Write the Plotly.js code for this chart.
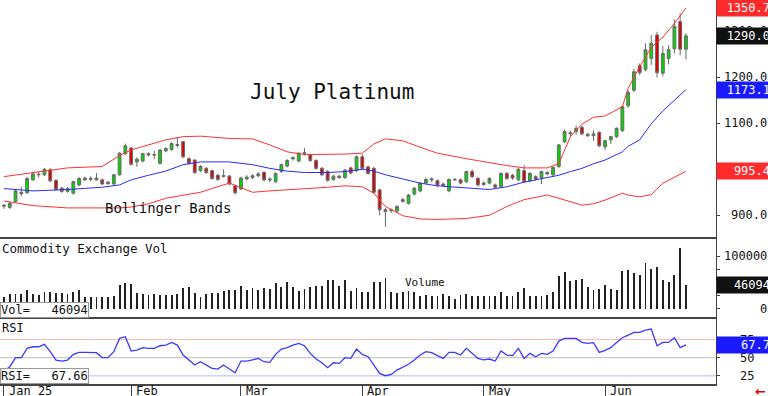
<!DOCTYPE html>
<html><head><meta charset="utf-8">
<script src="https://cdn.plot.ly/plotly-3.0.1.min.js"></script>
<style>html,body{margin:0;padding:0;background:#fff}#chart{width:768px;height:396px}</style>
</head><body><div id="chart"></div>
<script>
// ---- trading days (day-of-month lists per month, 2025) ----
const janDays=[2,3,6,7,8,9,10,13,14,15,16,17,20,21,22,23,24,27,28,29,30,31];
const febDays=[3,4,5,6,7,10,11,12,13,14,18,19,20,21,24,25,26,27,28];
const marDays=[3,4,5,6,7,10,11,12,13,14,17,18,19,20,21,24,25,26,27,28,31];
const aprDays=[1,2,3,4,7,8,9,10,11,14,15,16,17,21,22,23,24,25,28,29,30];
const mayDays=[1,2,5,6,7,8,9,12,13,14,15,16,19,20,21,22,23,27,28,29,30];
const junDays=[2,3,4,5,6,9,10,11,12,13,16,17,18,19,20];
const monthDays=[janDays,febDays,marDays,aprDays,mayDays,junDays];
const dates=[];
monthDays.forEach((days,m)=>days.forEach(d=>dates.push('2025-'+String(m+1).padStart(2,'0')+'-'+String(d).padStart(2,'0'))));

// ---- price OHLC ----
const open=[922,917,930,950,949,977,988,988,999,976,
959,952,948,966,977,980,977,977,972,968,
988,1034,1046,1016,1018,1031,1032,1013,1040,1043,
1054,1060,1023,1020,997,1002,997,987,986,985,
964,957,979,982,986,993,979,973,995,1007,
1023,1018,1036,1031,1019,1002,995,978,985,982,
1003,997,1027,1005,1002,955,912,910,909,934,
926,946,953,970,977,975,968,953,977,977,
973,995,980,970,970,966,962,991,987,977,
997,975,984,982,993,988,1006,1060,1077,1082,
1091,1076,1073,1080,1049,1064,1071,1084,1138,1172,
1225,1217,1241,1292,1209,1241,1262,1321,1261];
const high=[924,929,956,962,983,994,994,1003,1003,978,
962,962,975,983,984,985,992,980,975,990,
1037,1056,1049,1026,1036,1037,1040,1044,1048,1059,
1070,1062,1026,1022,1009,1005,999,990,1000,988,
967,984,987,989,994,996,983,993,1012,1022,
1028,1037,1046,1034,1022,1005,998,988,988,1001,
1006,1030,1033,1008,1005,958,916,915,922,938,
946,961,972,982,983,978,971,980,981,980,
997,1000,983,974,983,969,993,994,990,1003,
1009,994,987,997,996,1006,1055,1087,1084,1095,
1095,1079,1085,1083,1064,1073,1091,1138,1172,1218,
1230,1274,1292,1299,1268,1270,1326,1339,1296];
const low=[914,914,928,941,947,975,982,985,972,953,
949,949,945,963,975,974,975,966,966,966,
986,1031,1008,1005,1015,1028,1022,1010,1037,1040,
1047,1024,1010,990,994,990,977,975,982,965,
945,955,976,979,983,974,972,970,992,1004,
1019,1015,1030,1016,999,985,973,975,979,979,
989,994,999,988,947,900,875,905,905,928,
923,943,950,967,972,962,962,950,974,967,
970,981,963,964,967,958,959,977,977,974,
970,972,975,968,987,985,1003,1057,1071,1075,
1074,1070,1062,1048,1042,1055,1068,1081,1134,1168,
1205,1213,1227,1199,1202,1228,1252,1248,1239];
const close=[920,926,953,947,980,990,989,1000,975,956,
952,958,973,980,981,978,981,968,969,988,
1035,1051,1011,1022,1034,1034,1031,1042,1045,1056,
1052,1027,1013,993,1006,993,980,978,985,968,
949,981,983,986,990,977,977,991,1010,1019,
1025,1035,1035,1019,1002,988,976,985,982,998,
992,1027,1002,991,950,912,908,912,919,930,
944,959,970,978,979,965,965,978,978,970,
995,984,966,967,980,961,991,980,981,1000,
973,991,979,995,990,1004,1053,1082,1079,1089,
1077,1073,1077,1051,1062,1071,1089,1136,1167,1212,
1210,1260,1274,1210,1252,1260,1311,1261,1290];

// ---- Bollinger band readings (trading-day index of each reading) ----
const bbIndex=[0,5,11,17,20,22,25,28,31,34,39,43,46,49,52,56,59,62,64,66,69,72,75,80,84,87,90,94,96,98,100,102,104,107,108,110,112,114,116,118];
const bbUpper=[984,993,1003,1006,1030,1042,1053,1064,1071,1072,1067,1066,1053,1038,1032,1032,1033,1035,1055,1066,1062,1048,1035,1023,1014,1008,1003,1003,1012,1071,1098,1113,1116,1136,1176,1223,1265,1287,1317,1350.7];
const bbMiddle=[958,953,956,961,966,977,987,996,1010,1016,1016,1010,1002,996,993,993,995,1000,996,988,979,970,964,959,956,962,972,982,987,995,1002,1012,1020,1038,1050,1064,1099,1127,1150,1173.1];
const bbLower=[931,921,916,915,916,918,925,937,943,950,970,950,953,955,958,961,964,962,948,919,899,892,891,893,900,919,934,944,937,930,922,925,933,948,944,940,945,970,983,995.4];

// ---- volume ----
const volume=[22000,28300,28300,28300,36500,28300,26400,31500,31500,30200,
30200,28300,31500,36500,22000,22000,22000,22000,22000,25200,
45300,49100,47200,30200,28300,26400,28300,26400,26400,26400,
28300,39000,40900,30200,22000,28300,30200,30200,34600,36500,
36500,44000,36500,39000,36500,39000,37700,49100,40900,50300,
40900,34600,37700,40900,42800,44000,55400,55400,44000,55400,
34600,39000,31500,31500,51600,51600,57900,31500,30200,32700,
34600,31500,25200,26400,23900,23900,28300,23900,18900,26400,
28300,25200,23900,23900,23900,23900,31500,23900,23900,32700,
39000,25200,25200,25200,26400,32700,61600,69200,53500,55400,
56600,40900,36500,37700,45800,37700,36500,72000,73000,68600,
63600,86000,75000,80000,55000,51600,64000,115000,46094];

// ---- RSI ----
const rsi=[31.6,37.6,50.0,50.0,62.9,65.1,65.1,68.4,58.3,46.8,
45.4,46.8,54.6,57.3,57.3,57.0,56.9,50.0,50.0,58.3,
76.6,78.9,59.2,60.6,63.8,62.9,62.9,66.5,67.4,71.1,
67.4,53.7,46.8,39.9,44.5,39.9,35.3,34.4,39.9,34.4,
29.3,45.4,45.4,47.0,49.1,44.5,43.6,54.6,61.9,63.8,
67.4,69.7,66.5,56.0,48.2,43.1,36.2,43.1,42.2,50.0,
49.1,61.9,54.6,51.4,39.9,28.4,25.2,27.0,33.0,37.0,
41.0,46.8,53.7,58.3,56.9,52.8,49.1,57.3,57.3,53.7,
62.9,56.0,49.1,47.0,48.2,45.4,59.2,53.7,52.8,62.9,
49.1,56.0,51.4,56.0,54.6,59.2,72.9,76.6,76.6,76.6,
71.1,69.7,70.7,57.3,60.1,63.8,71.1,77.5,81.2,84.9,
84.9,88.1,89.5,66.5,71.1,71.1,77.5,63.8,67.66];
const rsiLevels=[75,50,25];

// ---- axis labels ----
const priceTicks=[900,1000,1100,1200,1300];
const volTicks=[0,25000,50000,75000,100000];
const volTickLabels={0:'0',100000:'100000'};
const monthTickDates=['2025-01-02','2025-02-03','2025-03-03','2025-04-01','2025-05-01','2025-06-02'];
const monthTickLabels=['Jan 25','Feb','Mar','Apr','May','Jun'];

// ================= drawing =================
const MONO='"DejaVu Sans Mono", "Liberation Mono", monospace';
const bbDates=bbIndex.map(i=>dates[i]);
const last=dates.length-1;

const traces=[
 {type:'candlestick',x:dates,open:open,high:high,low:low,close:close,xaxis:'x',yaxis:'y',
  increasing:{line:{color:'#6a6a6a',width:1},fillcolor:'#00d800'},
  decreasing:{line:{color:'#6a6a6a',width:1},fillcolor:'#e00000'},
  whiskerwidth:0,hoverinfo:'skip',showlegend:false},
 {type:'scatter',mode:'lines',x:bbDates,y:bbUpper,line:{color:'#ff3030',width:1},yaxis:'y',hoverinfo:'skip',showlegend:false},
 {type:'scatter',mode:'lines',x:bbDates,y:bbMiddle,line:{color:'#2a2aff',width:1},yaxis:'y',hoverinfo:'skip',showlegend:false},
 {type:'scatter',mode:'lines',x:bbDates,y:bbLower,line:{color:'#ff3030',width:1},yaxis:'y',hoverinfo:'skip',showlegend:false},
 {type:'bar',x:dates,y:volume,yaxis:'y2',marker:{color:'#222',line:{width:0}},width:0.32,hoverinfo:'skip',showlegend:false},
 {type:'scatter',mode:'lines',x:dates,y:rsi,yaxis:'y3',line:{color:'#3a3aff',width:1.3},hoverinfo:'skip',showlegend:false}
];

const shapes=[];
rsiLevels.forEach((lv,k)=>{
  shapes.push({type:'line',xref:'paper',x0:0,x1:1,yref:'y3',y0:lv,y1:lv,layer:'below',
    line:{color:['#ffb4b4','#bdbdbd','#b8b8ff'][k],width:1}});
});
shapes.push({type:'line',xref:'paper',x0:0,x1:1,yref:'y2 domain',y0:1,y1:1,line:{color:'#444',width:2}});
shapes.push({type:'line',xref:'paper',x0:0,x1:1,yref:'y3 domain',y0:1,y1:1,line:{color:'#444',width:2}});

function rightLabel(yref,y,text,xr){
  return {xref:'paper',x:xr,xanchor:'right',yref:yref,y:y,yanchor:'middle',text:text,showarrow:false,
    font:{family:MONO,size:12,color:'#111'}};
}
function boxLabel(yref,y,text,bg){
  return {xref:'paper',x:1,xanchor:'left',yref:yref,y:y,yanchor:'middle',text:text,showarrow:false,
    width:52,align:'right',bgcolor:bg,borderpad:1,font:{family:MONO,size:12,color:'#fff'}};
}
const RX=769/716, RX3=756/716;
const ann=[];
priceTicks.forEach(v=>ann.push(rightLabel('y',v,v.toFixed(1),RX)));
volTicks.forEach(v=>{ if(volTickLabels[v]!==undefined) ann.push(rightLabel('y2',v,volTickLabels[v],RX)); });
rsiLevels.forEach(v=>ann.push(rightLabel('y3',v,String(v),RX3)));
ann.push(boxLabel('y',bbUpper[bbUpper.length-1],bbUpper[bbUpper.length-1].toFixed(1),'#ff2a2a'));
ann.push(boxLabel('y',close[last],close[last].toFixed(1),'#111'));
ann.push(boxLabel('y',bbMiddle[bbMiddle.length-1],bbMiddle[bbMiddle.length-1].toFixed(1),'#1a1aff'));
ann.push(boxLabel('y',bbLower[bbLower.length-1],bbLower[bbLower.length-1].toFixed(1),'#ff2a2a'));
ann.push(boxLabel('y2',volume[last],String(volume[last]),'#111'));
ann.push(boxLabel('y3',rsi[last],rsi[last].toFixed(1),'#1a1aff'));

// text in panels
ann.push({xref:'paper',x:332/716,xanchor:'center',yref:'paper',y:1-92/384,yanchor:'middle',text:'July Platinum',showarrow:false,font:{family:MONO,size:21,color:'#111'}});
ann.push({xref:'paper',x:103/716,xanchor:'left',yref:'paper',y:1-208/384,yanchor:'middle',text:'Bollinger Bands',showarrow:false,font:{family:MONO,size:14,color:'#111'}});
ann.push({xref:'paper',x:0,xanchor:'left',yref:'y2 domain',y:1,yanchor:'top',yshift:-1,text:'Commodity Exchange Vol',showarrow:false,font:{family:MONO,size:12.5,color:'#111'}});
ann.push({xref:'paper',x:425/716,xanchor:'center',yref:'paper',y:1-282/384,yanchor:'middle',text:'Volume',showarrow:false,font:{family:MONO,size:11,color:'#111'}});
ann.push({xref:'paper',x:0,xanchor:'left',yref:'y3 domain',y:1,yanchor:'top',yshift:-1,text:'RSI',showarrow:false,font:{family:MONO,size:12,color:'#111'}});
const NB='\u00a0';
ann.push({xref:'paper',x:0,xanchor:'left',yref:'y2 domain',y:0,yanchor:'bottom',text:'Vol='+NB+NB+NB+volume[last],showarrow:false,
  bgcolor:'#fff',bordercolor:'#999',borderwidth:1,borderpad:0,font:{family:MONO,size:12,color:'#111'}});
ann.push({xref:'paper',x:0,xanchor:'left',yref:'y3 domain',y:0,yanchor:'bottom',text:'RSI='+NB+NB+NB+rsi[last].toFixed(2),showarrow:false,
  bgcolor:'#fff',bordercolor:'#999',borderwidth:1,borderpad:0,font:{family:MONO,size:12,color:'#111'}});
monthTickDates.forEach((d,k)=>ann.push({xref:'x',x:d,xanchor:'left',xshift:3,yref:'paper',y:-7/384,yanchor:'middle',
  text:monthTickLabels[k],showarrow:false,font:{family:MONO,size:12,color:'#111'}}));
ann.push({xref:'paper',x:768/716,xanchor:'right',yref:'paper',y:-7/384,yanchor:'middle',text:'<b>←</b>',showarrow:false,font:{family:'DejaVu Sans',size:13,color:'#e00000'}});

const yCommon={side:'right',showgrid:false,zeroline:false,showline:true,linecolor:'#444',linewidth:1,
  ticks:'outside',ticklen:3,tickcolor:'#444',showticklabels:false,fixedrange:true};

const layout={
  width:768,height:396,margin:{l:0,r:52,t:0,b:12},
  paper_bgcolor:'#fff',plot_bgcolor:'#fff',showlegend:false,dragmode:false,
  xaxis:{type:'category',range:[-0.69,123.2],anchor:'y3',showgrid:false,zeroline:false,
    showline:true,linecolor:'#444',linewidth:1.5,ticks:'outside',ticklen:11,tickcolor:'#444',
    tickmode:'array',tickvals:monthTickDates,showticklabels:false,rangeslider:{visible:false},fixedrange:true},
  yaxis:Object.assign({},yCommon,{domain:[146/384,1],range:[850.6,1368],tickmode:'array',tickvals:priceTicks}),
  yaxis2:Object.assign({},yCommon,{domain:[66/384,146/384],range:[-17000,134000],tickmode:'array',tickvals:volTicks}),
  yaxis3:Object.assign({},yCommon,{domain:[0,66/384],range:[13.8,104.7],tickmode:'array',tickvals:rsiLevels}),
  shapes:shapes,annotations:ann,bargap:0
};
Plotly.newPlot('chart',traces,layout,{staticPlot:true,displayModeBar:false});
</script></body></html>
